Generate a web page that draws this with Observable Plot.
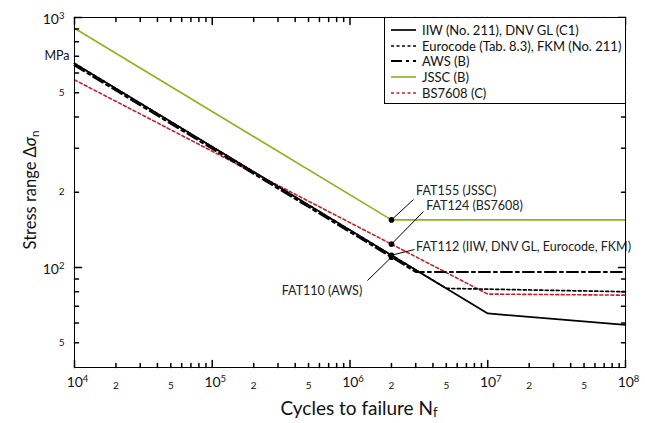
<!DOCTYPE html>
<html><head><meta charset="utf-8">
<script src="https://cdn.jsdelivr.net/npm/d3@7"></script>
<script src="https://cdn.jsdelivr.net/npm/@observablehq/plot@0.6"></script>
<style>
body{margin:0;background:#fff;font-family:Lato,"Open Sans",sans-serif}
#wrap{position:relative;width:645px;height:423px}
#legend{position:absolute;left:384px;top:17px;width:242px;height:87px;box-sizing:border-box;border:1px solid #000;background:#fff;font-size:13px;color:#111;padding-top:4px}
#legend .row{height:15.7px;display:flex;align-items:center;white-space:nowrap}
#legend svg{margin-left:6px;margin-right:6px}
</style></head><body><div id="wrap"><div id="legend"></div></div>
<script>
// ---- data ----
const iiwN = [1e4, 2e6, 1e7, 1e8];
const iiwS = [655, 112, 65.5, 59];
const eurocodeN = [1e4, 2e6, 5e6, 1e8];
const eurocodeS = [655, 112, 82.5, 80];
const awsN = [1e4, 2e6, 3e6, 1e8];
const awsS = [643, 110, 96, 96];
const jsscN = [1e4, 2e6, 1e8];
const jsscS = [906, 155, 155];
const bsN = [1e4, 2e6, 1e7, 1e8];
const bsS = [563, 124, 78.3, 77.5];

const seriesNames = ["IIW (No. 211), DNV GL (C1)", "Eurocode (Tab. 8.3), FKM (No. 211)", "AWS (B)", "JSSC (B)", "BS7608 (C)"];

const fatLabels = ["FAT155 (JSSC)", "FAT124 (BS7608)", "FAT112 (IIW, DNV GL, Eurocode, FKM)", "FAT110 (AWS)"];
const fatN = [2e6, 2e6, 2e6, 2e6];
const fatS = [155, 124, 112, 110];
const fatLabelN = [3.02e6, 3.57e6, 3.02e6, 1.227e6];
const fatLabelS = [203, 177, 120.6, 80.9];
const fatLeaderN = [2.89e6, 3.42e6, 2.94e6, 1.34e6];
const fatLeaderS = [187, 167.5, 118, 88.7];

const xDecades = [1e4, 1e5, 1e6, 1e7, 1e8];
const xMinorLabels = [2e4, 5e4, 2e5, 5e5, 2e6, 5e6, 2e7, 5e7];
const yDecades = [100, 1000];
const yMinorLabels = [50, 200, 500];
const yUnit = [700];

// ---- styles ----
const styles = [
  {stroke: "#000", width: 1.7, dash: null},
  {stroke: "#000", width: 1.7, dash: "3,2.5"},
  {stroke: "#000", width: 2, dash: "11,4,3,4"},
  {stroke: "#8db31f", width: 1.6, dash: null},
  {stroke: "#c4202b", width: 1.6, dash: "3,2.5"}
];
const seriesN = [iiwN, eurocodeN, awsN, jsscN, bsN];
const seriesS = [iiwS, eurocodeS, awsS, jsscS, bsS];
const drawOrder = [3, 4, 2, 1, 0];
const FONT = "Lato, 'Open Sans', sans-serif";

const xMinorTicks = [];
for (let d = 1e4; d < 1e8; d *= 10) for (let k = 2; k <= 9; k++) xMinorTicks.push(k * d);
const yMinorTicks = [];
for (const d of [10, 100]) for (let k = 2; k <= 9; k++) if (k * d > 45) yMinorTicks.push(k * d);

const tickShape = {draw(ctx, l) { ctx.moveTo(0, 0); ctx.lineTo(0, -l); }};
const tickMarks = [];
for (const [data, len] of [[xMinorTicks, 4], [xDecades, 7]]) {
  tickMarks.push(Plot.vector(data, {x: d => d, frameAnchor: "bottom", length: len, rotate: 0, anchor: "start", shape: tickShape, stroke: "#000"}));
  tickMarks.push(Plot.vector(data, {x: d => d, frameAnchor: "top", length: len, rotate: 180, anchor: "start", shape: tickShape, stroke: "#000"}));
}
for (const [data, len] of [[yMinorTicks, 4], [yDecades, 7]]) {
  tickMarks.push(Plot.vector(data, {y: d => d, frameAnchor: "left", length: len, rotate: 90, anchor: "start", shape: tickShape, stroke: "#000"}));
  tickMarks.push(Plot.vector(data, {y: d => d, frameAnchor: "right", length: len, rotate: -90, anchor: "start", shape: tickShape, stroke: "#000"}));
}

const decFmt = d => "10^" + Math.round(Math.log10(d));
const digitFmt = d => String(Math.round(d / 10 ** Math.floor(Math.log10(d) + 1e-9)));

const lineMarks = drawOrder.map(k => Plot.line(seriesN[k].map((n, i) => ({n, s: seriesS[k][i]})), {
  x: "n", y: "s", stroke: styles[k].stroke, strokeWidth: styles[k].width,
  strokeDasharray: styles[k].dash, strokeLinejoin: "miter"
}));

const idx = d3.range(fatLabels.length);
const chart = Plot.plot({
  width: 645, height: 423,
  marginLeft: 74, marginRight: 20, marginTop: 17, marginBottom: 56,
  x: {type: "log", domain: [1e4, 1e8], axis: null},
  y: {type: "log", domain: [10 ** 1.6, 1000], axis: null},
  style: {fontFamily: FONT, background: "white", color: "#111"},
  marks: [
    ...lineMarks,
    Plot.link(idx, {x1: i => fatN[i], y1: i => fatS[i], x2: i => fatLeaderN[i], y2: i => fatLeaderS[i], stroke: "#000", strokeWidth: 1}),
    Plot.dot(idx, {x: i => fatN[i], y: i => fatS[i], r: 2.8, fill: "#000"}),
    Plot.text(idx.filter(i => i < 3), {x: i => fatLabelN[i], y: i => fatLabelS[i], text: i => fatLabels[i], textAnchor: "start", fontSize: 12.5, fill: "#222"}),
    Plot.text(idx.filter(i => i === 3), {x: i => fatLabelN[i], y: i => fatLabelS[i], text: i => fatLabels[i], textAnchor: "end", fontSize: 12.5, fill: "#222"}),
    Plot.frame({stroke: "#000", strokeWidth: 1}),
    ...tickMarks,
    Plot.text(xDecades, {x: d => d, frameAnchor: "bottom", dy: 19, dx: 3, text: decFmt, fontSize: 14, fill: "#111"}),
    Plot.text(xMinorLabels, {x: d => d, frameAnchor: "bottom", dy: 21, text: digitFmt, fontSize: 10, fill: "#111"}),
    Plot.text(yDecades, {y: d => d, frameAnchor: "left", dx: -10, dy: 2, text: decFmt, textAnchor: "end", fontSize: 14, fill: "#111"}),
    Plot.text(yMinorLabels, {y: d => d, frameAnchor: "left", dx: -10, text: digitFmt, textAnchor: "end", fontSize: 10, fill: "#111"}),
    Plot.text(yUnit, {y: d => d, frameAnchor: "left", dx: -5, text: () => "MPa", textAnchor: "end", fontSize: 12.5, fill: "#111"})
  ]
});

const wrap = document.getElementById("wrap");
wrap.insertBefore(chart, wrap.firstChild);
const svg = d3.select(chart);

// superscripts for decade labels
svg.selectAll("text").each(function() {
  const t = this.textContent;
  const m = /^10\^(\d+)$/.exec(t);
  if (m) {
    const sel = d3.select(this);
    sel.text("10");
    sel.append("tspan").attr("dy", "-0.5em").attr("font-size", "9.5px").text(m[1]);
  }
});

// axis titles
const yt = svg.append("text")
  .attr("transform", "translate(32,190) rotate(-90)")
  .attr("text-anchor", "middle").attr("dominant-baseline", "middle")
  .attr("font-size", 16.5).attr("fill", "#111").attr("font-family", FONT);
yt.append("tspan").text("Stress range Δ");
yt.append("tspan").attr("font-style", "italic").text("σ");
yt.append("tspan").attr("font-size", 11.5).attr("dy", 4).text("n");

const xt = svg.append("text")
  .attr("x", 359).attr("y", 410)
  .attr("text-anchor", "middle").attr("dominant-baseline", "middle")
  .attr("font-size", 19).attr("fill", "#111").attr("font-family", FONT);
xt.append("tspan").text("Cycles to failure N");
xt.append("tspan").attr("font-size", 13).attr("dy", 4).text("f");

// legend
const legend = d3.select("#legend");
seriesNames.forEach((name, k) => {
  const row = legend.append("div").attr("class", "row");
  const s = row.append("svg").attr("width", 25).attr("height", 8);
  s.append("line").attr("x1", 0).attr("x2", 25).attr("y1", 4).attr("y2", 4)
    .attr("stroke", styles[k].stroke).attr("stroke-width", styles[k].width)
    .attr("stroke-dasharray", styles[k].dash);
  row.append("span").text(name);
});
</script>
</body></html>
